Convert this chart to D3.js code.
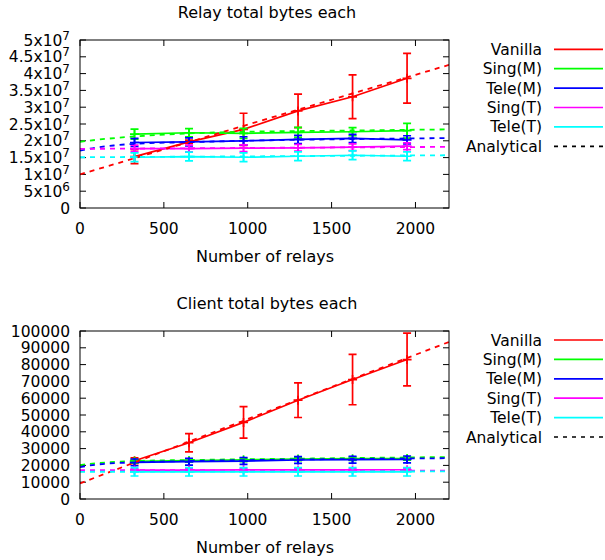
<!DOCTYPE html>
<html>
<head>
<meta charset="utf-8">
<script src="https://cdn.jsdelivr.net/npm/d3@7"></script>
<style>
  body { margin: 0; background: #fff; }
  svg text { font-family: "DejaVu Sans", sans-serif; fill: #000; }
</style>
</head>
<body>
<div id="container"></div>
<script>
/* DATA */
const relays = [325, 650, 975, 1300, 1625, 1950];
const seriesNames = ["Vanilla", "Sing(M)", "Tele(M)", "Sing(T)", "Tele(T)"];
const seriesColors = ["#ff0000", "#00ff00", "#0000ff", "#ff00ff", "#00ffff"];
const xTicks = [0, 500, 1000, 1500, 2000];

// relay chart (bytes)
const relayVanilla = [1.53e7, 1.97e7, 2.34e7, 2.89e7, 3.31e7, 3.86e7];
const relayVanillaErr = [0.21e7, 0.05e7, 0.48e7, 0.5e7, 0.65e7, 0.74e7];
const relaySingM = [2.20e7, 2.24e7, 2.22e7, 2.25e7, 2.27e7, 2.30e7];
const relaySingMErr = [0.15e7, 0.12e7, 0.15e7, 0.15e7, 0.12e7, 0.22e7];
const relayTeleM = [1.95e7, 1.97e7, 2.00e7, 2.04e7, 2.07e7, 2.03e7];
const relayTeleMErr = [0.12e7, 0.12e7, 0.12e7, 0.12e7, 0.12e7, 0.12e7];
const relaySingT = [1.77e7, 1.77e7, 1.78e7, 1.79e7, 1.81e7, 1.84e7];
const relaySingTErr = [0.1e7, 0.1e7, 0.1e7, 0.1e7, 0.1e7, 0.1e7];
const relayTeleT = [1.51e7, 1.53e7, 1.51e7, 1.54e7, 1.57e7, 1.54e7];
const relayTeleTErr = [0.13e7, 0.13e7, 0.13e7, 0.13e7, 0.13e7, 0.13e7];

// analytical curves, read at a few x positions
const relayAnaVanilla = [[0, 1.0e7], [2200, 4.26e7]];
const relayAnaSingM = [[0, 1.97e7], [100, 2.03e7], [300, 2.12e7], [650, 2.22e7], [1000, 2.27e7], [1500, 2.30e7], [2200, 2.34e7]];
const relayAnaTeleM = [[0, 1.71e7], [100, 1.80e7], [200, 1.86e7], [325, 1.91e7], [650, 1.96e7], [975, 2.0e7], [1300, 2.03e7], [1625, 2.05e7], [1950, 2.07e7], [2200, 2.08e7]];
const relayAnaSingT = [[0, 1.76e7], [1100, 1.79e7], [2200, 1.82e7]];
const relayAnaTeleT = [[0, 1.51e7], [1100, 1.54e7], [2200, 1.57e7]];
const relayYTicks = [0, 5e6, 1e7, 1.5e7, 2e7, 2.5e7, 3e7, 3.5e7, 4e7, 4.5e7, 5e7];

// client chart (bytes)
const clientVanilla = [22800, 33500, 45600, 58800, 71100, 83000];
const clientVanillaErr = [1700, 5400, 9400, 10300, 15000, 15700];
const clientSingM = [22400, 22900, 23300, 23800, 24000, 24100];
const clientSingMErr = [1000, 1000, 1000, 1000, 1000, 1000];
const clientTeleM = [21800, 22200, 22600, 23200, 23400, 23500];
const clientTeleMErr = [2000, 2000, 2000, 2000, 2000, 2000];
const clientSingT = [17200, 17200, 17300, 17300, 17300, 17400];
const clientSingTErr = [800, 800, 800, 800, 800, 800];
const clientTeleT = [16200, 16200, 16200, 16200, 16200, 16200];
const clientTeleTErr = [2500, 2500, 2500, 2500, 2500, 2500];

const clientAnaVanilla = [[0, 9300], [2200, 93500]];
const clientAnaSingM = [[0, 20200], [100, 21300], [325, 22600], [650, 23200], [1300, 24000], [2200, 25000]];
const clientAnaTeleM = [[0, 19000], [100, 20500], [325, 21800], [650, 22600], [1300, 23500], [2200, 24300]];
const clientAnaSingT = [[0, 17200], [2200, 16900]];
const clientAnaTeleT = [[0, 16200], [2200, 16400]];
const clientYTicks = [0, 10000, 20000, 30000, 40000, 50000, 60000, 70000, 80000, 90000, 100000];

/* SVG */
const width = 605, height = 560;
const svg = d3.select("#container").append("svg")
  .attr("width", width).attr("height", height);

function drawPanel(p) {
  const x = d3.scaleLinear().domain([0, 2200]).range([80, 449]);
  const y = d3.scaleLinear().domain(p.yDomain).range([p.bottom, p.top]);
  const g = svg.append("g");

  // ticks (mirrored, inward)
  const tl = 6;
  p.yTicks.forEach(t => {
    g.append("line").attr("x1", 80).attr("x2", 80 + tl).attr("y1", y(t)).attr("y2", y(t))
      .attr("stroke", "#000").attr("stroke-width", 1);
    g.append("line").attr("x1", 449).attr("x2", 449 - tl).attr("y1", y(t)).attr("y2", y(t))
      .attr("stroke", "#000").attr("stroke-width", 1);
    const txt = g.append("text").attr("x", 70).attr("y", y(t) + 5.5)
      .attr("text-anchor", "end").style("font-size", "15.5px");
    p.yLabel(txt, t);
  });
  xTicks.forEach(t => {
    g.append("line").attr("x1", x(t)).attr("x2", x(t)).attr("y1", p.bottom).attr("y2", p.bottom - tl)
      .attr("stroke", "#000").attr("stroke-width", 1);
    g.append("line").attr("x1", x(t)).attr("x2", x(t)).attr("y1", p.top).attr("y2", p.top + tl)
      .attr("stroke", "#000").attr("stroke-width", 1);
    g.append("text").attr("x", x(t)).attr("y", p.bottom + 25.5)
      .attr("text-anchor", "middle").style("font-size", "15.5px").text(t);
  });

  const clipId = "clip" + p.top;
  svg.append("clipPath").attr("id", clipId).append("rect")
    .attr("x", 80).attr("y", p.top).attr("width", 369).attr("height", p.bottom - p.top);
  const plot = g.append("g").attr("clip-path", `url(#${clipId})`);

  const line = d3.line().x(d => x(d[0])).y(d => y(d[1]));

  // data series with error bars and + points
  p.series.forEach((s, i) => {
    const c = seriesColors[i];
    const pts = relays.map((r, j) => [r, s.values[j], s.err[j]]);
    plot.append("path").datum(pts).attr("d", line)
      .attr("fill", "none").attr("stroke", c).attr("stroke-width", 1.7);
    pts.forEach(d => {
      const px = x(d[0]), lo = y(d[1] - d[2]), hi = y(d[1] + d[2]), py = y(d[1]);
      plot.append("path")
        .attr("d", `M${px},${lo}V${hi}M${px - 4},${lo}H${px + 4}M${px - 4},${hi}H${px + 4}`)
        .attr("stroke", c).attr("stroke-width", 1.7).attr("fill", "none");
      plot.append("path")
        .attr("d", `M${px - 4.5},${py}H${px + 4.5}M${px},${py - 4.5}V${py + 4.5}`)
        .attr("stroke", c).attr("stroke-width", 1.7).attr("fill", "none");
    });
  });

  // analytical dashed lines
  p.analytical.forEach((a, i) => {
    plot.append("path").datum(a)
      .attr("d", line.curve(d3.curveMonotoneX))
      .attr("fill", "none").attr("stroke", seriesColors[i])
      .attr("stroke-width", 1.8).attr("stroke-dasharray", "5,5");
  });

  // frame
  g.append("rect").attr("x", 80).attr("y", p.top).attr("width", 369).attr("height", p.bottom - p.top)
    .attr("fill", "none").attr("stroke", "#000").attr("stroke-width", 1);

  // titles
  svg.append("text").attr("x", 267).attr("y", p.top - 22).attr("text-anchor", "middle")
    .style("font-size", "16px").text(p.title);
  svg.append("text").attr("x", 265).attr("y", p.bottom + 54).attr("text-anchor", "middle")
    .style("font-size", "16px").text("Number of relays");

  // legend
  const names = seriesNames.concat(["Analytical"]);
  names.forEach((n, i) => {
    const ly = p.legendTop + i * 19.4;
    svg.append("text").attr("x", 542).attr("y", ly + 5.5).attr("text-anchor", "end")
      .style("font-size", "15.5px").text(n);
    svg.append("line").attr("x1", 554).attr("x2", 603).attr("y1", ly).attr("y2", ly)
      .attr("stroke", i < 5 ? seriesColors[i] : "#000").attr("stroke-width", 1.7)
      .attr("stroke-dasharray", i < 5 ? null : "4,5");
  });
}

function sciLabel(txt, t) {
  if (t === 0) { txt.text("0"); return; }
  const exp = Math.floor(Math.log10(t));
  const mant = t / Math.pow(10, exp);
  txt.text(`${mant}x10`);
  txt.append("tspan").attr("dy", -6).style("font-size", "12px").text(exp);
}

drawPanel({
  top: 40, bottom: 208, yDomain: [0, 5e7], yTicks: relayYTicks, yLabel: sciLabel,
  title: "Relay total bytes each", legendTop: 49.3,
  series: [
    { values: relayVanilla, err: relayVanillaErr },
    { values: relaySingM, err: relaySingMErr },
    { values: relayTeleM, err: relayTeleMErr },
    { values: relaySingT, err: relaySingTErr },
    { values: relayTeleT, err: relayTeleTErr }
  ],
  analytical: [relayAnaVanilla, relayAnaSingM, relayAnaTeleM, relayAnaSingT, relayAnaTeleT]
});

drawPanel({
  top: 331, bottom: 499, yDomain: [0, 100000], yTicks: clientYTicks,
  yLabel: (txt, t) => txt.text(t),
  title: "Client total bytes each", legendTop: 340,
  series: [
    { values: clientVanilla, err: clientVanillaErr },
    { values: clientSingM, err: clientSingMErr },
    { values: clientTeleM, err: clientTeleMErr },
    { values: clientSingT, err: clientSingTErr },
    { values: clientTeleT, err: clientTeleTErr }
  ],
  analytical: [clientAnaVanilla, clientAnaSingM, clientAnaTeleM, clientAnaSingT, clientAnaTeleT]
});
</script>
</body>
</html>
